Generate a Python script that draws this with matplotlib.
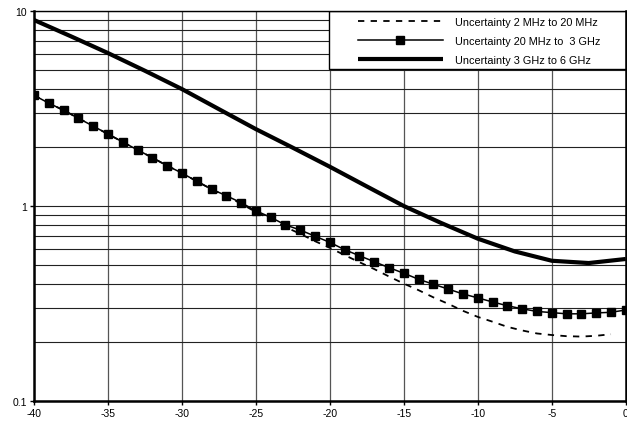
import matplotlib
matplotlib.use("Agg")
import matplotlib.pyplot as plt
from matplotlib.patches import Rectangle
from matplotlib.ticker import FixedLocator, NullFormatter

plt.rcParams['font.family'] = ['Liberation Sans', 'DejaVu Sans']
plt.rcParams['axes.unicode_minus'] = False

# level (dB) axis
x_int = list(range(-40, 1))

# Uncertainty 20 MHz to 3 GHz (marker series, one point per dB)
mid = [3.70, 3.37, 3.10, 2.82, 2.57, 2.34, 2.13, 1.94, 1.77, 1.61,
       1.476, 1.34, 1.22, 1.13, 1.04, 0.946, 0.875, 0.80, 0.753, 0.70,
       0.651, 0.597, 0.556, 0.518, 0.483, 0.452, 0.421, 0.397, 0.375, 0.354,
       0.338, 0.322, 0.308, 0.297, 0.288, 0.284, 0.280, 0.280, 0.283, 0.285,
       0.293]

# Uncertainty 2 MHz to 20 MHz (dashed), ends at -1 dB
x_low = list(range(-40, 0))
low = [3.70, 3.37, 3.10, 2.82, 2.57, 2.34, 2.13, 1.94, 1.77, 1.61,
       1.476, 1.34, 1.22, 1.12, 1.03, 0.93, 0.86, 0.78, 0.72, 0.66,
       0.61, 0.56, 0.515, 0.475, 0.435, 0.40, 0.37, 0.34, 0.315, 0.29,
       0.27, 0.255, 0.24, 0.23, 0.222, 0.218, 0.215, 0.214, 0.216, 0.22]

# Uncertainty 3 GHz to 6 GHz (thick line)
x_high = [-40, -37.5, -35, -32.5, -30, -27.5, -25, -22.5, -20, -17.5,
          -15, -12.5, -10, -7.5, -5, -2.5, 0]
high = [9.0, 7.42, 6.09, 4.94, 3.98, 3.14, 2.48, 1.99, 1.59, 1.26,
        1.0, 0.82, 0.68, 0.585, 0.524, 0.51, 0.535]

labels = ["Uncertainty 2 MHz to 20 MHz",
          "Uncertainty 20 MHz to  3 GHz",
          "Uncertainty 3 GHz to 6 GHz"]

fig = plt.figure(figsize=(6.27, 4.31), dpi=100)
ax = fig.add_axes([0.0542, 0.0673, 0.9438, 0.9047])

ax.plot(x_low, low, color='black', lw=1.3, ls=(0, (3.5, 3.5)), label=labels[0])
ax.plot(x_int, mid, color='black', lw=1.1, marker='s', ms=5.8, label=labels[1])
ax.plot(x_high, high, color='black', lw=3.0, solid_capstyle='butt', label=labels[2])

ax.set_yscale('log')
ax.set_xlim(-40, 0)
ax.set_ylim(0.1, 10)
ax.set_xticks(range(-40, 1, 5))
ax.yaxis.set_major_locator(FixedLocator([0.1, 1, 10]))
ax.set_yticklabels(['0.1', '1', '10'])
minors = [m * d for d in (0.1, 1) for m in range(2, 10)]
ax.yaxis.set_minor_locator(FixedLocator(minors))
ax.yaxis.set_minor_formatter(NullFormatter())

ax.grid(True, which='both', axis='y', color='#222222', lw=0.8)
ax.grid(True, which='major', axis='x', color='#555555', lw=0.9)
ax.tick_params(which='major', direction='out', length=3, width=1,
               labelsize=7.5, pad=2)
ax.tick_params(which='minor', length=0)

for side in ('left', 'bottom', 'right'):
    ax.spines[side].set_linewidth(1.8)
ax.spines['top'].set_linewidth(1.0)

# legend box drawn separately so it can be wider than its contents
box = Rectangle((0.498, 0.851), 0.502, 0.149, transform=ax.transAxes,
                facecolor='white', edgecolor='black', lw=1.0, zorder=2.5)
ax.add_patch(box)
leg = ax.legend(loc='upper left', bbox_to_anchor=(0.547, 0.986),
                borderaxespad=0, borderpad=0, frameon=False,
                fontsize=7.8, handlelength=7.9, handletextpad=1.1,
                labelspacing=0.85, numpoints=1)
leg.set_zorder(5)

fig.savefig("out.png", dpi=100)
